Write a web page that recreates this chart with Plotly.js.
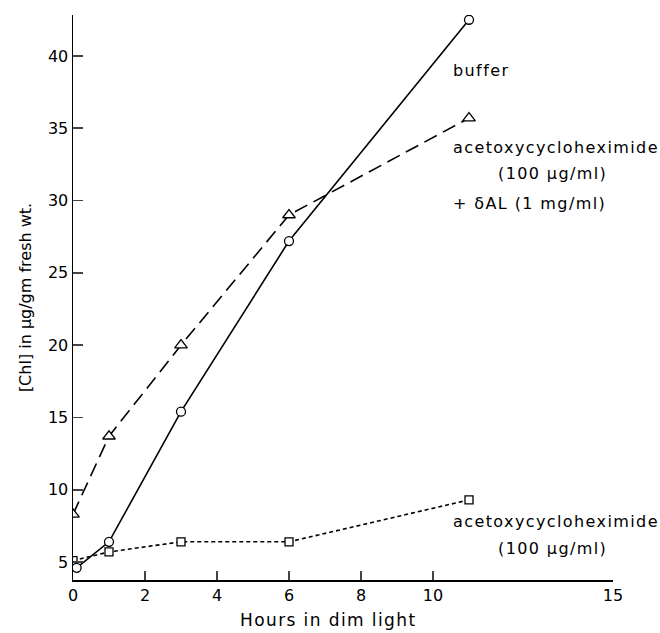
<!DOCTYPE html>
<html>
<head>
<meta charset="utf-8">
<script src="https://cdn.plot.ly/plotly-3.0.1.min.js"></script>
<style>html,body{margin:0;padding:0;background:#fff}#chart{width:660px;height:633px}</style>
</head>
<body>
<div id="chart"></div>
<script>
const hours = [0.1, 1, 3, 6, 11];
const hoursTri = [0, 1, 3, 6, 11];
const hoursSq = [0, 1, 3, 6, 11];
const bufferChl = [4.6, 6.4, 15.4, 27.2, 42.5];
const acetoxyDalChl = [8.3, 13.7, 20.0, 29.0, 35.7];
const acetoxyChl = [5.1, 5.7, 6.4, 6.4, 9.3];
const xTicks = [0, 2, 4, 6, 8, 10, 15];
const yTicks = [5, 10, 15, 20, 25, 30, 35, 40];

const FONT = "DejaVu Sans, sans-serif";
const traces = [
  {x: hoursSq, y: acetoxyChl, mode: 'lines+markers', line: {color: '#000', width: 1.6, dash: '4px,3px'},
   marker: {symbol: 'square', size: 8, color: '#fff', line: {color: '#000', width: 1.3}}},
  {x: hoursTri, y: acetoxyDalChl, mode: 'lines+markers', line: {color: '#000', width: 1.6, dash: '14px,7px'},
   marker: {symbol: 'triangle-up', size: 11, color: '#fff', line: {color: '#000', width: 1.3}}},
  {x: hours, y: bufferChl, mode: 'lines+markers', line: {color: '#000', width: 1.6},
   marker: {symbol: 'circle', size: 9, color: '#fff', line: {color: '#000', width: 1.3}}}
];

const tf = {family: FONT, size: 16, color: '#000'};
function sp(t) { return '<span style="letter-spacing:1.4px">' + t + '</span>'; }
function note(x, y, text) {
  return {x: x, y: y, xref: 'x', yref: 'y', text: sp(text), showarrow: false, xanchor: 'left', yanchor: 'middle', font: tf};
}
const layout = {
  width: 660, height: 633,
  margin: {l: 73, r: 47, t: 15, b: 53},
  paper_bgcolor: '#fff', plot_bgcolor: '#fff',
  showlegend: false,
  font: {family: FONT, color: '#000', size: 15},
  xaxis: {range: [0, 15], tickvals: xTicks, ticktext: xTicks.map(String), ticks: 'inside', ticklen: 9, tickwidth: 1.5,
          showline: true, linecolor: '#000', linewidth: 1.5, showgrid: false, zeroline: false,
          tickfont: {family: FONT, size: 16}},
  yaxis: {range: [3.76, 42.83], tickvals: yTicks, ticks: 'inside', ticklen: 10, tickwidth: 1.5,
          showline: true, linecolor: '#000', linewidth: 1.5, showgrid: false, zeroline: false,
          tickfont: {family: FONT, size: 16}, title: {text: '[Chl] in μg/gm fresh wt.', font: {family: FONT, size: 16}, standoff: 12}},
  annotations: [
    note(10.5, 39.0, 'buffer'),
    note(10.5, 33.7, 'acetoxycycloheximide'),
    note(11.75, 31.85, '(100 μg/ml)'),
    note(10.5, 29.8, '+ δAL (1 mg/ml)'),
    note(10.5, 7.8, 'acetoxycycloheximide'),
    note(11.75, 5.95, '(100 μg/ml)'),
    {x: 0.472, y: 0, xref: 'paper', yref: 'paper', yanchor: 'middle', xanchor: 'center', showarrow: false,
     text: sp('Hours in dim light'), font: {family: FONT, size: 17, color: '#000'}, yshift: -40}
  ]
};
Plotly.newPlot('chart', traces, layout, {staticPlot: true, displayModeBar: false});
</script>
</body>
</html>
